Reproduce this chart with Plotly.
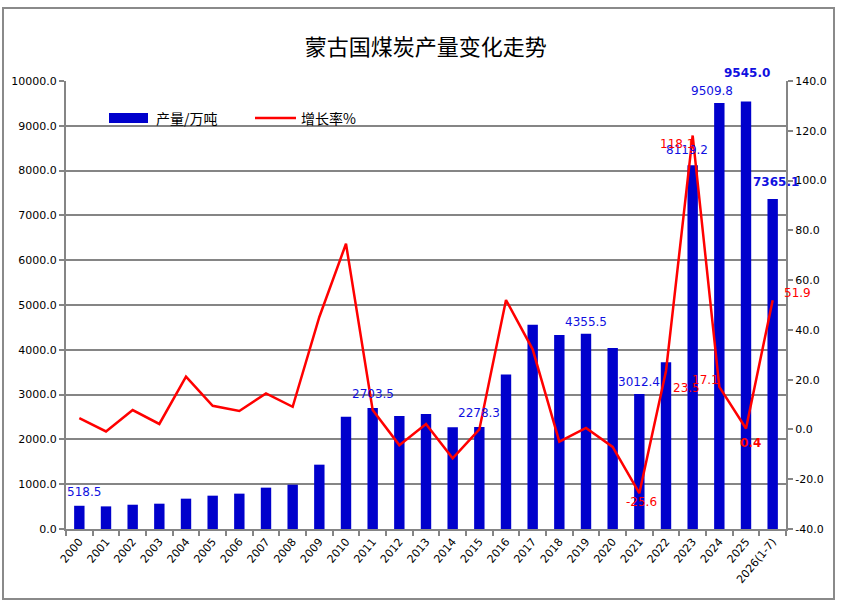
import plotly.graph_objects as go

years = ["2000", "2001", "2002", "2003", "2004", "2005", "2006", "2007", "2008", "2009",
         "2010", "2011", "2012", "2013", "2014", "2015", "2016", "2017", "2018", "2019",
         "2020", "2021", "2022", "2023", "2024", "2025", "2026(1-7)"]
output = [518.5, 505, 542, 565, 677, 744, 789, 923, 989, 1436,
          2507, 2703.5, 2522, 2567, 2270, 2278.3, 3450, 4560, 4330, 4355.5,
          4040, 3012.4, 3720, 8119.2, 9509.8, 9545.0, 7365.1]
growth = [4.5, -0.8, 7.8, 2.2, 21.2, 9.5, 7.4, 14.5, 9.1, 45.2,
          74.6, 7.8, -6.3, 2.2, -11.6, 0.0, 52.0, 32.2, -4.9, 0.6,
          -7.0, -25.6, 23.5, 118.1, 17.1, 0.4, 51.9]
left_ticks = [0, 1000, 2000, 3000, 4000, 5000, 6000, 7000, 8000, 9000, 10000]
right_ticks = [-40, -20, 0, 20, 40, 60, 80, 100, 120, 140]

# labelled points: (index, xshift, yshift, bold)
bar_labels = [(0, 5, 14, False), (11, 0, 14, False), (15, 0, 14, False), (19, 0, 12, False),
              (21, 0, 12, False), (23, -6, 15, False), (24, -7, 12, False),
              (25, 1, 28, True), (26, 3, 17, True)]
growth_labels = [(21, 2, -9, False), (22, 20, -17, False), (23, -16, -8, False),
                 (24, -14, 7, False), (25, 4, -15, True), (26, 25, 7, False)]

W, H = 843, 610
L, R, T, B = 66, 57, 81, 81
pw, ph = W - L - R, H - T - B

GRID = "#858585"
fig = go.Figure()
fig.add_trace(go.Bar(x=years, y=output, marker=dict(color="#0000CC", line=dict(width=0)),
                     name="产量/万吨", yaxis="y"))
fig.add_trace(go.Scatter(x=years, y=growth, mode="lines", line=dict(color="#FF0000", width=2.5),
                         name="增长率%", yaxis="y2"))

ann = []
for i, dx, dy, bold in bar_labels:
    t = f"{output[i]:.1f}"
    ann.append(dict(x=i, y=output[i], xref="x", yref="y", text=f"<b>{t}</b>" if bold else t,
                    showarrow=False, xshift=dx, yshift=dy, yanchor="middle",
                    font=dict(family="DejaVu Sans", size=12, color="#1010E0")))
for i, dx, dy, bold in growth_labels:
    t = f"{growth[i]:.1f}"
    ann.append(dict(x=i, y=growth[i], xref="x", yref="y2", text=f"<b>{t}</b>" if bold else t,
                    showarrow=False, xshift=dx, yshift=dy, yanchor="middle",
                    font=dict(family="DejaVu Sans", size=12, color="#FF0000")))

def px(x):
    return (x - L) / pw

def py(y):
    return (H - B - y) / ph

# custom legend
ann.append(dict(x=px(154), y=py(118), xref="paper", yref="paper", text="产量/万吨", showarrow=False,
                xanchor="left", yanchor="middle",
                font=dict(family="Noto Sans CJK SC", size=14, color="black")))
ann.append(dict(x=px(299), y=py(118), xref="paper", yref="paper", text="增长率%", showarrow=False,
                xanchor="left", yanchor="middle",
                font=dict(family="Noto Sans CJK SC", size=14, color="black")))
shapes = [
    dict(type="rect", xref="paper", yref="paper", x0=px(109), x1=px(148), y0=py(123), y1=py(113),
         fillcolor="#0000CC", line=dict(width=0)),
    dict(type="line", xref="paper", yref="paper", x0=px(255), x1=px(296), y0=py(118), y1=py(118),
         line=dict(color="#FF0000", width=2.5)),
    dict(type="rect", xref="paper", yref="paper", x0=px(3), x1=px(834), y0=py(599), y1=py(8),
         line=dict(color="#8a8a8a", width=2), fillcolor="rgba(0,0,0,0)", layer="below"),
]

tickfont = dict(family="DejaVu Sans", size=11, color="black")
fig.update_layout(
    width=W, height=H, margin=dict(l=L, r=R, t=T, b=B),
    paper_bgcolor="white", plot_bgcolor="white",
    showlegend=False, bargap=0.61,
    title=dict(text="蒙古国煤炭产量变化走势", x=0.505, xanchor="center", y=1 - 47 / H, yanchor="middle",
               font=dict(family="Noto Sans CJK SC", size=22, color="black")),
    xaxis=dict(type="category", range=[-0.5, len(years) - 0.5], tickson="boundaries",
               ticks="outside", ticklen=5, tickcolor=GRID,
               tickwidth=1.5, showline=True, linecolor=GRID, linewidth=2, tickangle=-50,
               tickfont=tickfont, showgrid=False),
    yaxis=dict(range=[0, 10000], tickvals=left_ticks, ticktext=[f"{v:.1f}" for v in left_ticks],
               showgrid=True, gridcolor=GRID, gridwidth=1.5, showline=True, linecolor=GRID,
               linewidth=2, ticks="outside", ticklen=5, tickcolor=GRID, tickwidth=1.5,
               tickfont=tickfont, zeroline=False),
    yaxis2=dict(range=[-40, 140], overlaying="y", side="right", tickvals=right_ticks,
                ticktext=[f"{v:.1f}" for v in right_ticks], showgrid=False, showline=True,
                linecolor=GRID, linewidth=2, ticks="outside", ticklen=5, tickcolor=GRID,
                tickwidth=1.5, tickfont=tickfont, zeroline=False),
    annotations=ann, shapes=shapes,
)
fig.write_html("out.html", config={"displayModeBar": False},
               post_script="document.body.style.margin='0';document.body.style.overflow='hidden';")
